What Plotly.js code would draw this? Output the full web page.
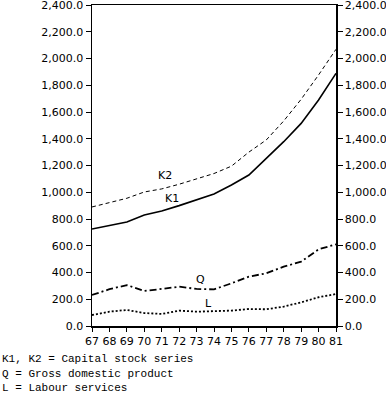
<!DOCTYPE html>
<html>
<head>
<meta charset="utf-8">
<script src="https://cdn.plot.ly/plotly-3.0.1.min.js"></script>
<style>html,body{margin:0;padding:0;background:#fff;}#chart{width:386px;height:394px;}</style>
</head>
<body>
<div id="chart"></div>
<script>
const years = [67,68,69,70,71,72,73,74,75,76,77,78,79,80,81];
const K1 = [725,750,778,830,860,900,945,987,1054,1129,1253,1378,1515,1690,1889];
const K2 = [890,920,955,1002,1025,1060,1100,1140,1195,1300,1391,1533,1695,1877,2069];
const Q  = [232,275,306,262,277,294,277,274,319,369,394,444,481,573,611];
const L  = [82,107,120,97,90,115,107,112,115,127,125,145,177,215,239];
const seriesLabels = [
  {text:'K2', x:71.2, y:1129},
  {text:'K1', x:71.6, y:957},
  {text:'Q',  x:73.2, y:344},
  {text:'L',  x:73.7, y:172}
];
const noteLines = ['K1, K2 = Capital stock series','Q = Gross domestic product','L = Labour services'];

const axisFont = {family:'DejaVu Sans', size:11, color:'#000'};
const traces = [
  {x:years, y:K2, mode:'lines', line:{color:'#000', width:1, dash:'4px,3px'}, hoverinfo:'skip'},
  {x:years, y:K1, mode:'lines', line:{color:'#000', width:1.6}, hoverinfo:'skip'},
  {x:years, y:Q, mode:'lines', line:{color:'#000', width:1.8, dash:'7px,3px,2px,3px'}, hoverinfo:'skip'},
  {x:years, y:L, mode:'lines', line:{color:'#000', width:1.8, dash:'2px,2px'}, hoverinfo:'skip'},
  {x:years, y:L, yaxis:'y2', mode:'lines', line:{width:0}, opacity:0, hoverinfo:'skip'}
];
const plotTop = 5, plotBottom = 326, plotLeft = 92, plotRight = 336;
const annotations = seriesLabels.map(s => ({x:s.x, y:s.y, xref:'x', yref:'y', text:s.text, showarrow:false, font:{family:'DejaVu Sans', size:11, color:'#000'}}));
noteLines.forEach((t,i) => {
  const py = 359 + i*14.5;
  annotations.push({x:(0 - plotLeft)/(plotRight-plotLeft), y:(plotBottom - py)/(plotBottom - plotTop), xref:'paper', yref:'paper', text:t, showarrow:false, xanchor:'left', yanchor:'middle', font:{family:'Liberation Mono', size:11, color:'#000'}});
});

const yax = {range:[0,2400], dtick:200, tickformat:',.1f', showgrid:false, zeroline:false, showline:true, linecolor:'#000', linewidth:1.5, ticks:'outside', ticklen:5, tickcolor:'#000', tickfont:axisFont, fixedrange:true, ticklabeloverflow:'allow'};
const layout = {
  width:386, height:394,
  margin:{l:plotLeft, r:386-plotRight, t:plotTop, b:394-plotBottom},
  paper_bgcolor:'#fff', plot_bgcolor:'#fff',
  showlegend:false,
  xaxis:{range:[67,81], dtick:1, tick0:67, showgrid:false, zeroline:false, showline:true, linecolor:'#000', linewidth:1.5, mirror:true, ticks:'outside', ticklen:4, tickcolor:'#000', tickfont:axisFont, fixedrange:true, ticklabeloverflow:'allow'},
  yaxis:yax,
  yaxis2:Object.assign({}, yax, {overlaying:'y', side:'right'}),
  annotations:annotations
};
Plotly.newPlot('chart', traces, layout, {displayModeBar:false, staticPlot:true});
</script>
</body>
</html>
